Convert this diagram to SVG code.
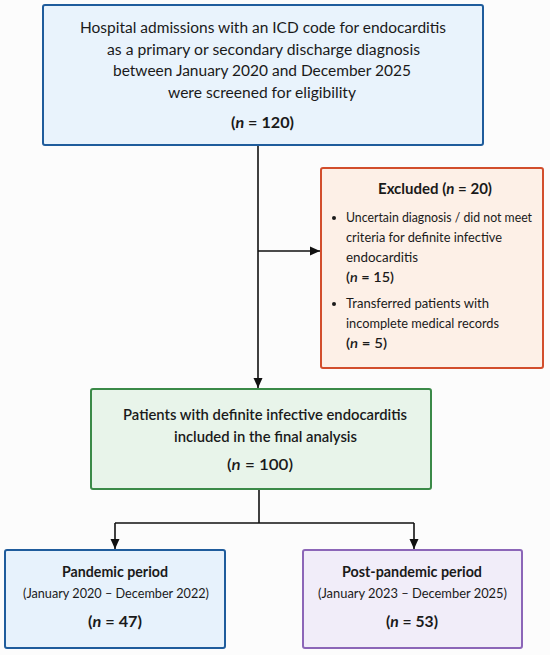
<svg xmlns="http://www.w3.org/2000/svg" width="550" height="655" viewBox="0 0 550 655">
<defs>
<marker id="ah" viewBox="0 0 10 10" refX="10" refY="5" markerWidth="10" markerHeight="10" markerUnits="userSpaceOnUse" orient="auto">
<path d="M0,0.5 L10,5 L0,9.5 Z" fill="#111"/>
</marker>
<style>
text{font-family:Lato,"Noto Sans","DejaVu Sans",sans-serif;fill:#1a1a1a;}
.box{stroke-width:2;}
.c{text-anchor:middle;}
.b{font-weight:700;}
.sb{font-weight:600;}
.conn{fill:none;stroke:#111;stroke-width:1.6;}
</style>
</defs>
<rect width="550" height="655" fill="#fcfcfc"/>
<g id="connectors">
<path class="conn" d="M258,145 V388" marker-end="url(#ah)"/>
<path class="conn" d="M258,251 H320" marker-end="url(#ah)"/>
<path class="conn" d="M259,489 V523"/>
<path class="conn" d="M115,523 H414"/>
<path class="conn" d="M115,523 V549" marker-end="url(#ah)"/>
<path class="conn" d="M414,523 V549" marker-end="url(#ah)"/>
</g>
<g id="screened">
<rect class="box" x="43" y="5" width="440" height="140" rx="2" fill="#e9f3fc" stroke="#1f5c9c"/>
<text x="80" y="33" font-size="15.5" textLength="366" lengthAdjust="spacingAndGlyphs">Hospital admissions with an ICD code for endocarditis</text>
<text x="107" y="55" font-size="15.5" textLength="313" lengthAdjust="spacingAndGlyphs">as a primary or secondary discharge diagnosis</text>
<text x="113" y="76" font-size="15.5" textLength="298" lengthAdjust="spacingAndGlyphs">between January 2020 and December 2025</text>
<text x="168" y="98" font-size="15.5" textLength="188" lengthAdjust="spacingAndGlyphs">were screened for eligibility</text>
<text class="b" x="231" y="128" font-size="15.5" textLength="63" lengthAdjust="spacingAndGlyphs">(<tspan font-style="italic">n</tspan> = 120)</text>
</g>
<g id="excluded">
<rect class="box" x="321" y="168" width="222" height="200" rx="2" fill="#fdf0e7" stroke="#d24e2c"/>
<text class="b" x="378" y="194" font-size="15" textLength="114" lengthAdjust="spacingAndGlyphs">Excluded (<tspan font-style="italic">n</tspan> = 20)</text>
<circle cx="334" cy="218" r="2" fill="#1a1a1a"/>
<text x="346" y="222" font-size="13" textLength="186" lengthAdjust="spacingAndGlyphs">Uncertain diagnosis / did not meet</text>
<text x="346" y="242" font-size="13.5" textLength="156" lengthAdjust="spacingAndGlyphs">criteria for definite infective</text>
<text x="346" y="262" font-size="13.5" textLength="72" lengthAdjust="spacingAndGlyphs">endocarditis</text>
<text class="sb" x="346" y="282" font-size="13.5" textLength="48" lengthAdjust="spacingAndGlyphs">(<tspan font-style="italic">n</tspan> = 15)</text>
<circle cx="334" cy="304" r="2" fill="#1a1a1a"/>
<text x="346" y="308" font-size="13.5" textLength="143" lengthAdjust="spacingAndGlyphs">Transferred patients with</text>
<text x="346" y="328" font-size="13.5" textLength="153" lengthAdjust="spacingAndGlyphs">incomplete medical records</text>
<text class="sb" x="346" y="348" font-size="13.5" textLength="41" lengthAdjust="spacingAndGlyphs">(<tspan font-style="italic">n</tspan> = 5)</text>
</g>
<g id="included">
<rect class="box" x="91" y="389" width="340" height="100" rx="2" fill="#e8f4ea" stroke="#3b8a48"/>
<text class="sb" x="123" y="420" font-size="15" textLength="284" lengthAdjust="spacingAndGlyphs">Patients with definite infective endocarditis</text>
<text class="sb" x="174" y="442" font-size="15" textLength="183" lengthAdjust="spacingAndGlyphs">included in the final analysis</text>
<text class="sb" x="227" y="470" font-size="15" textLength="66" lengthAdjust="spacingAndGlyphs">(<tspan font-style="italic">n</tspan> = 100)</text>
</g>
<g id="pandemic">
<rect class="box" x="5" y="550" width="220" height="98" rx="2" fill="#e7f2fc" stroke="#1f5c9c"/>
<text class="b" x="62" y="577" font-size="15" textLength="106" lengthAdjust="spacingAndGlyphs">Pandemic period</text>
<text x="23" y="598" font-size="14" textLength="186" lengthAdjust="spacingAndGlyphs">(January 2020 – December 2022)</text>
<text class="b" x="88" y="627" font-size="15" textLength="54" lengthAdjust="spacingAndGlyphs">(<tspan font-style="italic">n</tspan> = 47)</text>
</g>
<g id="postpandemic">
<rect class="box" x="303" y="550" width="219" height="98" rx="2" fill="#f1edf9" stroke="#8c66b8"/>
<text class="b" x="342" y="577" font-size="15" textLength="140" lengthAdjust="spacingAndGlyphs">Post-pandemic period</text>
<text x="318" y="598" font-size="14" textLength="189" lengthAdjust="spacingAndGlyphs">(January 2023 – December 2025)</text>
<text class="b" x="386" y="627" font-size="15" textLength="52" lengthAdjust="spacingAndGlyphs">(<tspan font-style="italic">n</tspan> = 53)</text>
</g>
</svg>
